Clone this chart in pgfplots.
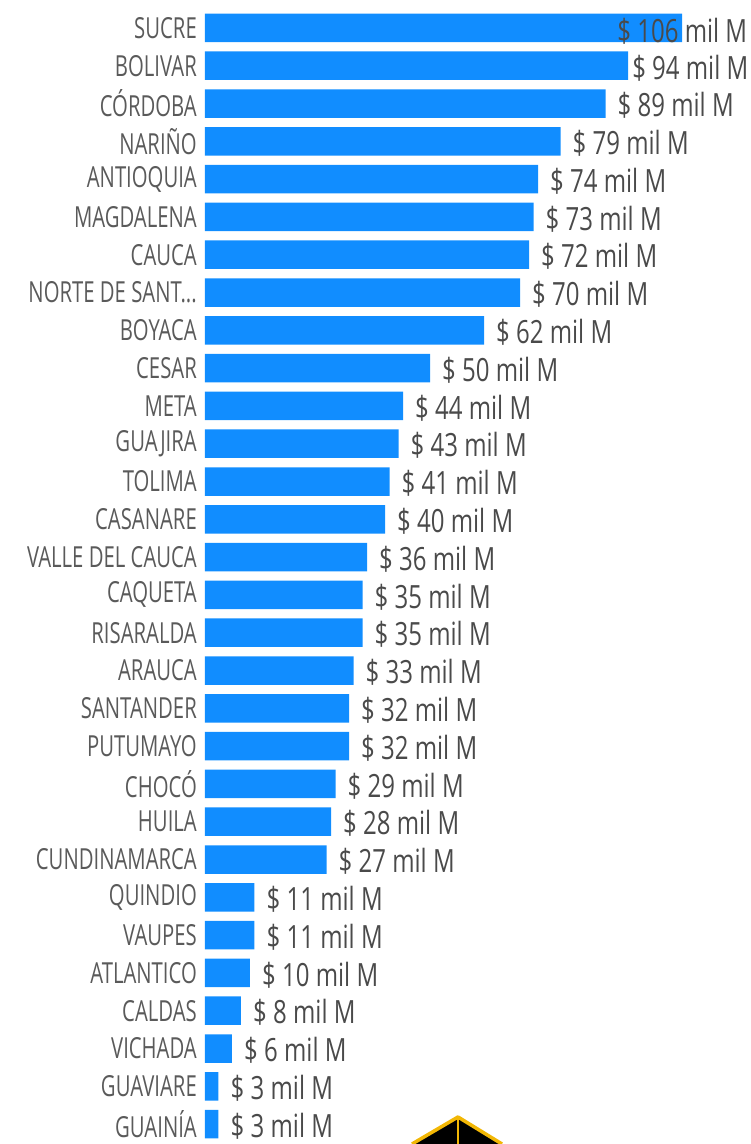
\documentclass[border=0pt]{standalone}
\usepackage{pgfplots}
\pgfplotsset{compat=1.18}
\usepackage{fontspec}
\setmainfont{Open Sans}
\newfontfamily\catfont[FakeStretch=0.70]{Open Sans}
\newfontfamily\valfont[FakeStretch=0.75]{Open Sans}
\definecolor{pbblue}{HTML}{118DFF}
\definecolor{cattext}{HTML}{5A5A5A}
\definecolor{valtext}{HTML}{4A4A4A}
\definecolor{logoyellow}{HTML}{F2B705}

\pgfplotstableread[col sep=comma]{
y,v
27,89
26,79
25,74
24,73
23,72
22,70
21,62
20,50
19,44
18,43
17,41
16,40
15,36
14,35
13,35
12,33
11,32
10,32
9,29
8,28
7,27
6,11
5,11
4,10
3,8
2,6
1,3
0,3
}\restdata

\pgfplotstableread[col sep=comma]{
y,v
29,106
28,94
}\topdata

\begin{document}
\begin{tikzpicture}
\begin{axis}[
  at={(0,0)}, anchor=south west,
  scale only axis, width=546bp, height=1134bp,
  xmin=0, xmax=121.33, ymin=-0.5, ymax=29.5,
  xbar, bar width=28.5bp, bar shift=0pt,
  axis x line=none,
  axis y line=left, y axis line style={draw=none},
  major tick length=0pt,
  /pgf/number format/assume math mode=true,
  ytick={0,1,2,3,4,5,6,7,8,9,10,11,12,13,14,15,16,17,18,19,20,21,22,23,24,25,26,27,28,29},
  yticklabels={GUAINÍA,GUAVIARE,VICHADA,CALDAS,ATLANTICO,VAUPES,QUINDIO,CUNDINAMARCA,HUILA,CHOCÓ,PUTUMAYO,SANTANDER,ARAUCA,RISARALDA,CAQUETA,VALLE DEL CAUCA,CASANARE,TOLIMA,GUAJIRA,META,CESAR,BOYACA,{NORTE DE SANT.{}.{}.},CAUCA,MAGDALENA,ANTIOQUIA,NARIÑO,CÓRDOBA,BOLIVAR,SUCRE},
  yticklabel style={font=\catfont\fontsize{29bp}{29bp}\selectfont, text=cattext, inner sep=0pt, xshift=-8bp},
  clip=false,
]
\addplot[fill=pbblue, draw=none,
  nodes near coords={\$ \pgfmathprintnumber[fixed,precision=0,assume math mode=true]{\pgfplotspointmeta} mil M},
  point meta=x,
  nodes near coords style={anchor=west, inner sep=0pt, xshift=12bp, yshift=-2bp,
    font=\valfont\fontsize{32bp}{32bp}\selectfont, text=valtext}]
  table[x=v, y=y] {\restdata};
\addplot[fill=pbblue, draw=none] table[x=v, y=y] {\topdata};
\node[anchor=west, inner sep=0pt, yshift=-3bp, font=\valfont\fontsize{32bp}{32bp}\selectfont, text=valtext]
  at (axis cs:91.6,29) {\$ 106 mil M};
\node[anchor=west, inner sep=0pt, yshift=-3bp, font=\valfont\fontsize{32bp}{32bp}\selectfont, text=valtext]
  at (axis cs:94.9,28) {\$ 94 mil M};
\end{axis}
% decorative logo at the bottom
\fill[black] (207bp,-1bp) -- (253bp,26bp) -- (297bp,-1bp) -- cycle;
\draw[logoyellow, line width=3.5bp, line join=round] (207bp,-1bp) -- (253bp,26bp) -- (297bp,-1bp);
\draw[logoyellow, line width=2.5bp] (253bp,26bp) -- (253bp,-1bp);
\pgfresetboundingbox
\path (-205bp,-1bp) rectangle (546bp,1143bp);
\end{tikzpicture}
\end{document}
